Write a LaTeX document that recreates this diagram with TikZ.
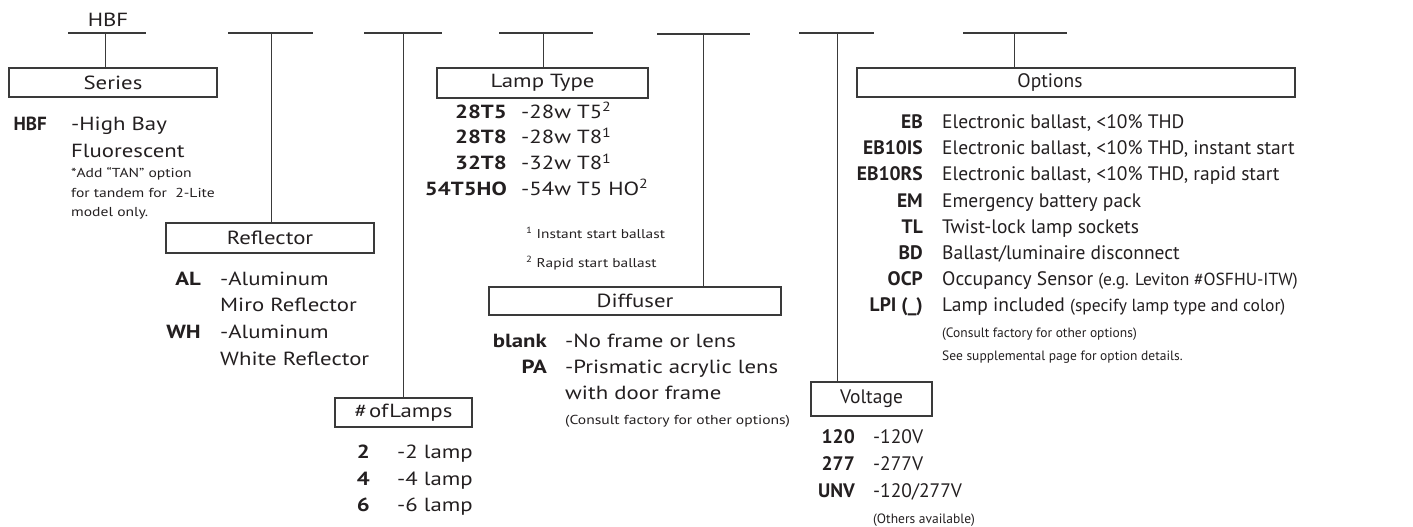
\documentclass[tikz,border=0pt]{standalone}
\usepackage{fontspec}
\setmainfont{PT Sans}
\newfontfamily\widef[FakeStretch=1.2, Ligatures=TeX]{PT Sans}
\newcommand{\fsz}[1]{\fontsize{#1}{#1}\selectfont}
\definecolor{ink}{HTML}{231F20}
\definecolor{linec}{HTML}{3A3A3A}
\begin{document}
\begin{tikzpicture}[x=1pt,y=-1pt,
  every node/.style={text=ink},
  blank/.style={draw=linec, line width=1.2pt},
  conn/.style={draw=linec, line width=1pt},
  hbox/.style={draw=linec, line width=1.1pt, inner sep=0pt, font=\widef\fsz{19}},
  nbox/.style={draw=linec, line width=1.1pt, inner sep=0pt, font=\fsz{19.5}},
  code/.style={anchor=base east, inner sep=0pt, font=\widef\bfseries\fsz{19}},
  desc/.style={anchor=base west, inner sep=0pt, font=\widef\fsz{19}},
  note/.style={anchor=base west, inner sep=0pt, font=\widef\fsz{13}},
  ncode/.style={anchor=base east, inner sep=0pt, font=\bfseries\fsz{19.5}},
  ndesc/.style={anchor=base west, inner sep=0pt, font=\fsz{19.5}},
  nnote/.style={anchor=base west, inner sep=0pt, font=\fsz{13.5}},
]
\useasboundingbox (0,0) rectangle (1413,527);

% fill-in lines
\coordinate (l1a) at (68,33);  \coordinate (l1b) at (146,33);
\coordinate (l2a) at (228,33); \coordinate (l2b) at (313,33);
\coordinate (l3a) at (364,33); \coordinate (l3b) at (442,33);
\coordinate (l4a) at (499,33); \coordinate (l4b) at (593,33);
\coordinate (l5a) at (657,34); \coordinate (l5b) at (750,34);
\coordinate (l6a) at (799,33); \coordinate (l6b) at (874,33);
\coordinate (l7a) at (963,33); \coordinate (l7b) at (1067,33);
\foreach \i in {1,...,7} { \draw[blank] (l\i a) -- (l\i b); }

\coordinate (v1) at (105,33);
\coordinate (v2) at (271,33);
\coordinate (v3) at (403,33);
\coordinate (v4) at (543,33);
\coordinate (v5) at (703,34);
\coordinate (v6) at (837,33);
\coordinate (v7) at (1014,33);

\node[anchor=base, inner sep=0pt, font=\widef\fsz{19}] (hbftop) at (108,27) {HBF};

% boxes
\node[hbox, minimum width=208pt, minimum height=29pt] (series) at (113,82.5) {Series};
\node[hbox, minimum width=208pt, minimum height=30pt] (refl) at (270,238) {Reflector};
\node[hbox, minimum width=137pt, minimum height=29pt] (lamps) at (403.5,412.5) {\#\hspace{2pt}of\hspace{1pt}Lamps};
\node[hbox, minimum width=211pt, minimum height=30pt] (ltype) at (542.5,83) {Lamp Type};
\node[hbox, minimum width=292pt, minimum height=28pt] (diff) at (635,301) {Diffuser};
\node[nbox, minimum width=121pt, minimum height=34pt] (volt) at (871.5,399) {Voltage};
\node[nbox, minimum width=438pt, minimum height=29pt] (opt) at (1076,82.5) {};
\node[inner sep=0pt, font=\fsz{19.5}] (optlab) at (1050,82.5) {Options};

% connectors
\draw[conn] (v1) -- (v1 |- series.north);
\draw[conn] (v2) -- (v2 |- refl.north);
\draw[conn] (v3) -- (v3 |- lamps.north);
\draw[conn] (v4) -- (v4 |- ltype.north);
\draw[conn] (v5) -- (v5 |- diff.north);
\draw[conn] (v6) -- (v6 |- volt.north);
\draw[conn] (v7) -- (v7 |- opt.north);

% Series
\node[code, font=\bfseries\fsz{19}] (c-hbf) at (47,130) {HBF};
\node[desc] (d-hbf1) at (71,130) {-High Bay};
\node[desc] (d-hbf2) at (71,157) {Fluorescent};
\node[note] (n-hbf1) at (71,177) {*Add “TAN” option};
\node[note] (n-hbf2) at (71,197) {for tandem for\ \ 2-Lite};
\node[note] (n-hbf3) at (71,216) {model only.};

% Reflector
\node[code] (c-al) at (201,285) {AL};
\node[desc] (d-al1) at (220,285) {-Aluminum};
\node[desc] (d-al2) at (220,311) {Miro Reflector};
\node[code] (c-wh) at (201,338) {WH};
\node[desc] (d-wh1) at (220,338) {-Aluminum};
\node[desc] (d-wh2) at (220,365) {White Reflector};

% Lamps
\node[code] (c-2) at (370,458) {2};
\node[desc] (d-2) at (397,458) {-2 lamp};
\node[code] (c-4) at (370,485) {4};
\node[desc] (d-4) at (397,485) {-4 lamp};
\node[code] (c-6) at (370,511) {6};
\node[desc] (d-6) at (397,511) {-6 lamp};

% Lamp type
\node[code] (c-28t5) at (507,118) {28T5};
\node[desc] (d-28t5) at (521,118) {-28w T5\textsuperscript{2}};
\node[code] (c-28t8) at (507,143.7) {28T8};
\node[desc] (d-28t8) at (521,143.7) {-28w T8\textsuperscript{1}};
\node[code] (c-32t8) at (507,169.4) {32T8};
\node[desc] (d-32t8) at (521,169.4) {-32w T8\textsuperscript{1}};
\node[code] (c-54) at (507,195) {54T5HO};
\node[desc] (d-54) at (521,195) {-54w T5 HO\textsuperscript{2}};
\node[note, font=\widef\fsz{12.8}] (n-lt1) at (526,238) {\textsuperscript{1} Instant start ballast};
\node[note, font=\widef\fsz{12.8}] (n-lt2) at (526,267) {\textsuperscript{2} Rapid start ballast};

% Diffuser
\node[code] (c-blank) at (547,347) {blank};
\node[desc] (d-blank) at (565,347) {-No frame or lens};
\node[code] (c-pa) at (547,373) {PA};
\node[desc] (d-pa1) at (565,373) {-Prismatic acrylic lens};
\node[desc] (d-pa2) at (565,399) {with door frame};
\node[note] (n-diff) at (565,424) {(Consult factory for other options)};

% Voltage
\node[ncode] (c-120) at (855,443) {120};
\node[ndesc] (d-120) at (873,443) {-120V};
\node[ncode] (c-277) at (855,470) {277};
\node[ndesc] (d-277) at (873,470) {-277V};
\node[ncode] (c-unv) at (855,497) {UNV};
\node[ndesc] (d-unv) at (873,497) {-120/277V};
\node[nnote] (n-volt) at (873,523) {(Others available)};

% Options
\node[ncode] (c-eb) at (923,128.5) {EB};
\node[ndesc] (d-eb) at (942,128.5) {Electronic ballast, <10\% THD};
\node[ncode] (c-eb10is) at (923,154.7) {EB10IS};
\node[ndesc] (d-eb10is) at (942,154.7) {Electronic ballast, <10\% THD, instant start};
\node[ncode] (c-eb10rs) at (923,180.9) {EB10RS};
\node[ndesc] (d-eb10rs) at (942,180.9) {Electronic ballast, <10\% THD, rapid start};
\node[ncode] (c-em) at (923,207.1) {EM};
\node[ndesc] (d-em) at (942,207.1) {Emergency battery pack};
\node[ncode] (c-tl) at (923,233.3) {TL};
\node[ndesc] (d-tl) at (942,233.3) {Twist-lock lamp sockets};
\node[ncode] (c-bd) at (923,259.5) {BD};
\node[ndesc] (d-bd) at (942,259.5) {Ballast/luminaire disconnect};
\node[ncode] (c-ocp) at (923,285.7) {OCP};
\node[ndesc] (d-ocp) at (942,285.7) {Occupancy Sensor {\fsz{17.5}(e.g. Leviton \#OSFHU-ITW)}};
\node[ncode] (c-lpi) at (923,311.9) {LPI (\_)};
\node[ndesc] (d-lpi) at (942,311.9) {Lamp included {\fsz{17.5}(specify lamp type and color)}};
\node[nnote] (n-opt1) at (942,337) {(Consult factory for other options)};
\node[nnote] (n-opt2) at (942,360) {See supplemental page for option details.};
\end{tikzpicture}
\end{document}
